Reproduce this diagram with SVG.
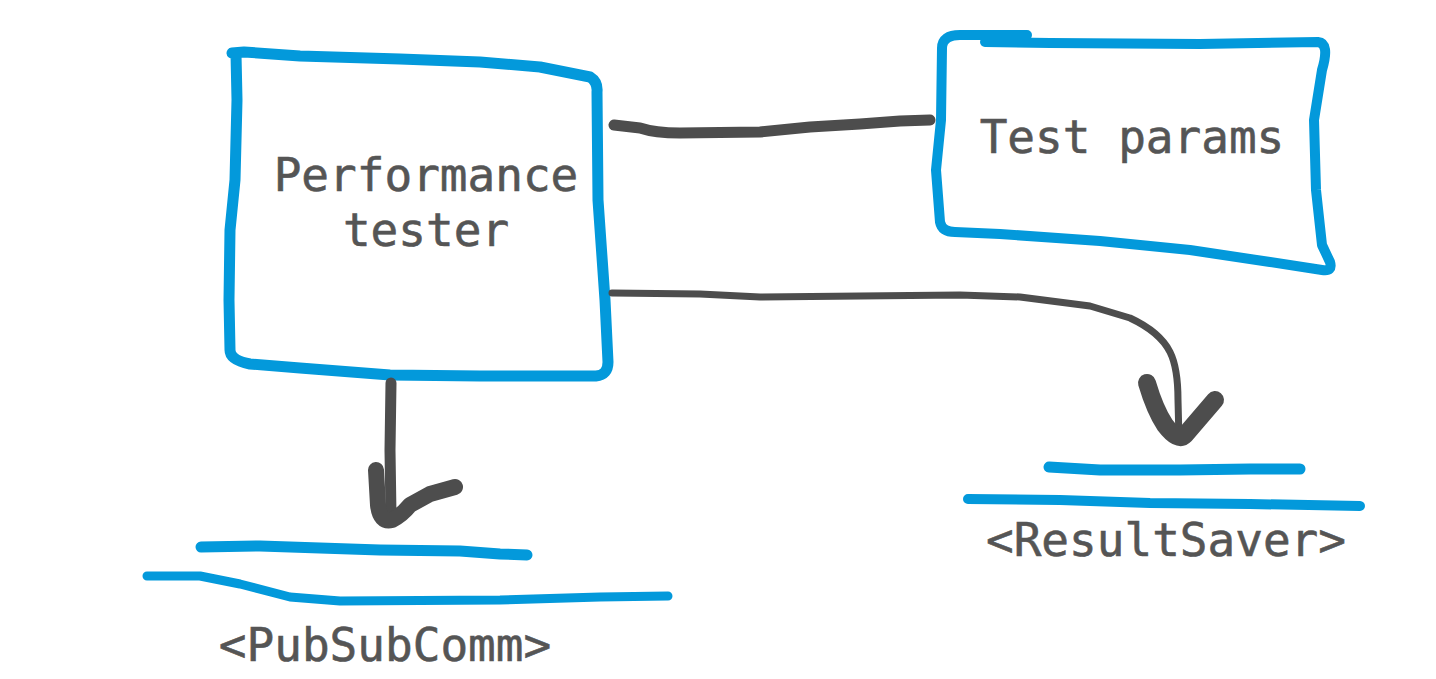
<svg xmlns="http://www.w3.org/2000/svg" width="1436" height="679" viewBox="0 0 1436 679">
<style>
.b{fill:none;stroke:#0399db;stroke-linecap:round;stroke-linejoin:round}
.c{fill:none;stroke:#4d4d4d;stroke-linecap:round;stroke-linejoin:round}
.t{font-family:"DejaVu Sans Mono","Liberation Mono",monospace;font-size:46px;fill:#555555;text-anchor:middle;stroke:#555555;stroke-width:0.6}
</style>
<rect width="1436" height="679" fill="#ffffff"/>
<g id="performance-tester">
<path class="b" stroke-width="11" d="M232,53 L244,52 L300,56 L400,59 L480,62 L540,67 L590,77 Q598,82 597,92 L598,200 L605,300 L608,362 Q608,375 596,376 L480,376 L390,375 L300,368 L250,364 Q230,360 230,350 L229,300 L230,230 L235,180 L237,100 L236,54"/>
<text class="t" x="426" y="191">Performance</text>
<text class="t" x="426" y="246">tester</text>
</g>
<g id="test-params">
<path class="b" stroke-width="10" d="M1027,35 L960,35 Q942,35 942,48 L941,120 L936,170 L940,222 Q942,232 955,232 L1000,234 L1100,241 L1190,250 L1270,262 L1322,270 Q1333,272 1330,262 L1322,245 L1316,190 L1314,120 L1322,70 Q1330,43 1318,42 L1200,44 L1050,43 L985,42"/>
<text class="t" x="1132" y="153">Test params</text>
</g>
<g id="pubsubcomm">
<path class="b" stroke-width="11" d="M201,547 L260,546 L320,548 L380,550 L460,551 L500,554 L527,555"/>
<path class="b" stroke-width="9" d="M147,576 L200,576 L240,584 L290,597 L340,601 L500,600 L600,597 L668,596"/>
<text class="t" x="385" y="661">&lt;PubSubComm&gt;</text>
</g>
<g id="resultsaver">
<path class="b" stroke-width="11" d="M1049,467 L1100,470 L1180,470 L1250,469 L1300,469"/>
<path class="b" stroke-width="10" d="M968,499 L1060,500 L1150,503 L1250,504 L1360,506"/>
<text class="t" x="1166" y="556">&lt;ResultSaver&gt;</text>
</g>
<g id="connectors">
<path class="c" stroke-width="11" d="M614,125 L640,128 Q655,133 680,133 L760,132 L810,127 L860,124 L900,121 L930,120"/>
<path class="c" stroke-width="7" d="M612,293 L700,294 L760,297 L860,296 L960,295 L1020,297 L1090,306 L1130,318 Q1160,332 1170,352 Q1178,368 1178,400 L1179,440"/>
<path class="c" stroke-width="18" d="M1147,383 Q1155,410 1165,425 Q1178,442 1185,435 L1215,400"/>
<path class="c" stroke-width="11" d="M391,383 L390,450 L391,515"/>
<path class="c" stroke-width="16" d="M376,470 L378,505 Q380,523 392,520 Q402,515 410,505 L430,494 L455,487"/>
</g>
</svg>
